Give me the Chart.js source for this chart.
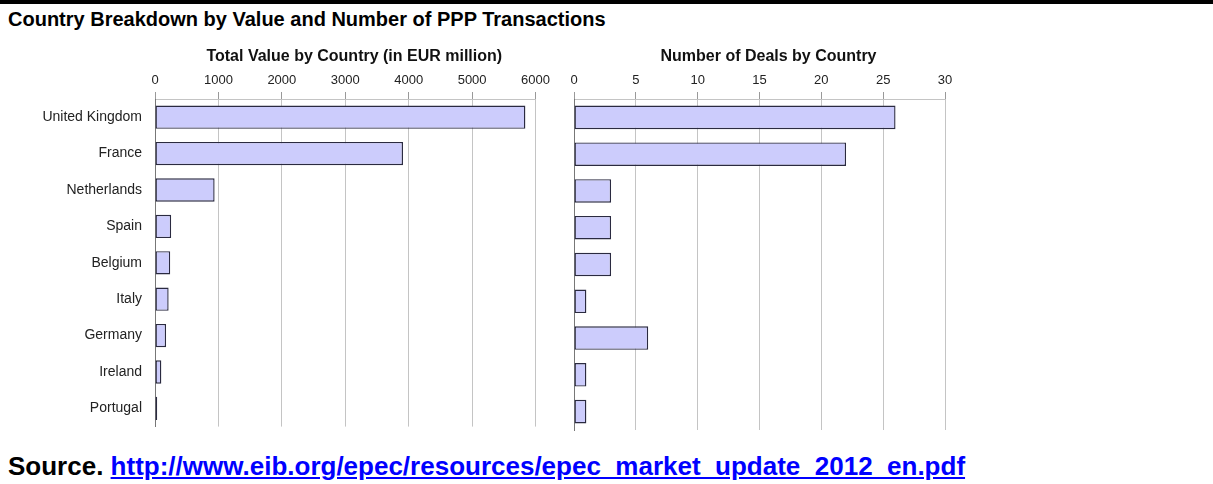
<!DOCTYPE html>
<html>
<head>
<meta charset="utf-8">
<script src="https://cdn.jsdelivr.net/npm/chart.js@4"></script>
<style>
  body { margin: 0; background: #fff; width: 1213px; height: 484px; overflow: hidden; position: relative; font-family: "Liberation Sans", Arial, sans-serif; }
  .topRule { position: absolute; left: 0; top: 0; width: 1213px; height: 4px; background: #000; }
  .heading { position: absolute; left: 8px; top: 8px; font-size: 20px; font-weight: bold; color: #000; margin: 0; }
  .source { position: absolute; left: 8px; top: 451px; font-size: 26px; font-weight: bold; color: #000; margin: 0; }
  .source a { color: #0000ff; text-decoration: underline; }
  #valueBox { position: absolute; left: 0; top: 40px; width: 554px; height: 400px; }
  #dealsBox { position: absolute; left: 560px; top: 40px; width: 400px; height: 400px; }
</style>
</head>
<body>
<div class="topRule"></div>
<h1 class="heading">Country Breakdown by Value and Number of PPP Transactions</h1>

<div id="valueBox"><canvas id="valueChart" width="554" height="400"></canvas></div>
<div id="dealsBox"><canvas id="dealsChart" width="400" height="400"></canvas></div>

<p class="source">Source. <a href="#">http://www.eib.org/epec/resources/epec_market_update_2012_en.pdf</a></p>

<script>
/* ---------------- data ---------------- */
const countries = ["United Kingdom", "France", "Netherlands", "Spain", "Belgium", "Italy", "Germany", "Ireland", "Portugal"];
const valueEUR = [5840, 3910, 940, 255, 240, 215, 175, 100, 35];
const dealCount = [26, 22, 3, 3, 3, 1, 6, 1, 1];
const valueTicks = [0, 1000, 2000, 3000, 4000, 5000, 6000];
const dealTicks = [0, 5, 10, 15, 20, 25, 30];

const FONT = "'Liberation Sans', Arial, sans-serif";
const BAR_FILL = "rgb(204,204,252)";
const BAR_EDGE = "#2a2a40";
const GRID = "#c4c4c4";

// axis title above the tick labels, nudged a little right like the source image
const axisTitle = {
  id: "axisTitle",
  afterDraw(chart, args, opts) {
    const { ctx, chartArea } = chart;
    ctx.save();
    ctx.font = "bold 16px " + FONT;
    ctx.fillStyle = "#111";
    ctx.textAlign = "center";
    ctx.textBaseline = "middle";
    ctx.fillText(opts.text, (chartArea.left + chartArea.right) / 2 + opts.shift, opts.y);
    ctx.restore();
  },
};

function barChart(canvasId, title, values, ticks, yWidth, showLabels, rightPad) {
  const ctx = document.getElementById(canvasId).getContext("2d");
  return new Chart(ctx, {
    type: "bar",
    data: {
      labels: countries,
      datasets: [{
        data: values,
        backgroundColor: BAR_FILL,
        borderColor: BAR_EDGE,
        borderWidth: 1.4,
        borderSkipped: false,
        barPercentage: 0.64,
        categoryPercentage: 1,
      }],
    },
    plugins: [axisTitle],
    options: {
      indexAxis: "y",
      responsive: false,
      animation: false,
      layout: { padding: { top: 0, right: rightPad, bottom: 10, left: 0 } },
      plugins: {
        legend: { display: false },
        tooltip: { enabled: false },
        axisTitle: { text: title, shift: 9, y: 17 },
      },
      scales: {
        x: {
          position: "top",
          min: ticks[0],
          max: ticks[ticks.length - 1],
          afterBuildTicks: (s) => { s.ticks = ticks.map((v) => ({ value: v })); },
          afterFit: (s) => { s.height = 59; },
          grid: { color: GRID, lineWidth: 1, tickLength: 7, tickColor: "#999" },
          border: { color: GRID },
          ticks: {
            color: "#222",
            font: { family: FONT, size: 13 },
            padding: 4,
            maxRotation: 0,
            callback: (v) => String(v),
          },
        },
        y: {
          afterFit: (s) => { s.width = yWidth; },
          grid: { display: false },
          border: { color: "#777", width: 1 },
          ticks: { display: showLabels, color: "#222", font: { family: FONT, size: 14 }, padding: 5 },
        },
      },
    },
  });
}

barChart("valueChart", "Total Value by Country (in EUR million)", valueEUR, valueTicks, 155, true, 11);
barChart("dealsChart", "Number of Deals by Country", dealCount, dealTicks, 14, false, 15);
</script>
</body>
</html>
